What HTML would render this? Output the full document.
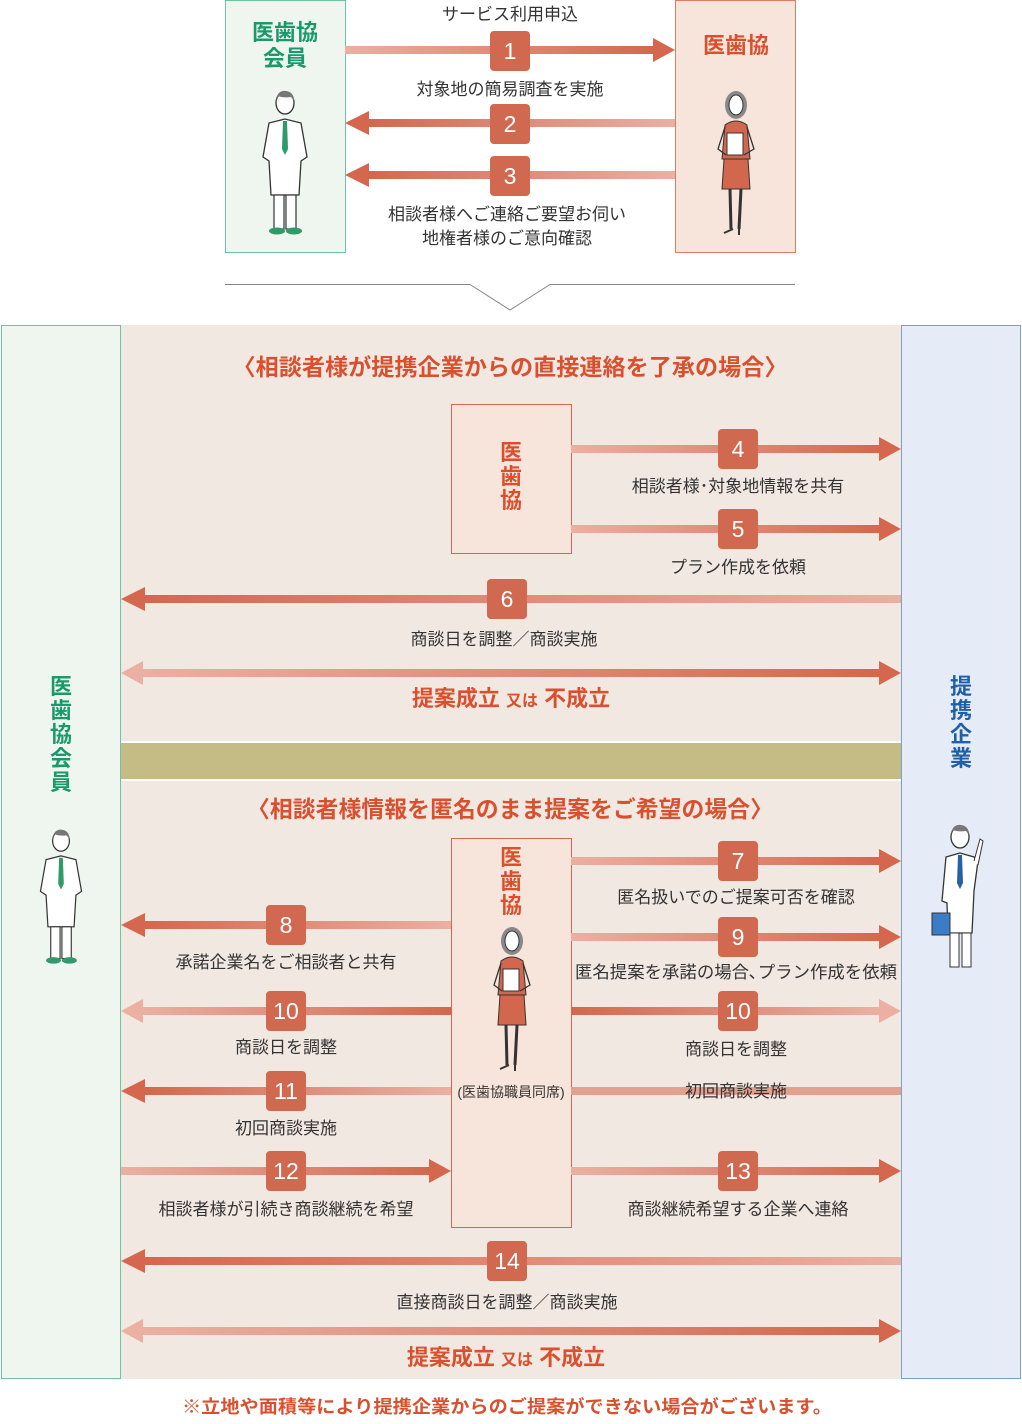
<!DOCTYPE html>
<html><head><meta charset="utf-8"><style>
html,body{margin:0;padding:0;background:#fff;}
svg text{font-family:"Liberation Sans","Noto Sans CJK JP",sans-serif;}
</style></head><body>
<svg width="1022" height="1419" viewBox="0 0 1022 1419" xmlns="http://www.w3.org/2000/svg">
<defs>
<linearGradient id="gR" x1="0" x2="1" y1="0" y2="0"><stop offset="0" stop-color="#ebb0a2"/><stop offset="1" stop-color="#d4674e"/></linearGradient>
<linearGradient id="gL" x1="0" x2="1" y1="0" y2="0"><stop offset="0" stop-color="#d4674e"/><stop offset="1" stop-color="#ebb0a2"/></linearGradient>
<symbol id="doc" viewBox="0 0 60 150">
<path d="M30 32 L14 36 L8 70 L14 74 L16 108 L44 108 L46 74 L52 70 L46 36 Z" fill="#fff" stroke="#333" stroke-width="1.3"/>
<polygon points="28,34 32,34 33,62 30,68 27,62" fill="#2f9a6a"/>
<ellipse cx="30" cy="16" rx="9" ry="11" fill="#fff" stroke="#333" stroke-width="1.3"/>
<path d="M21 14 Q22 3 31 4 Q39 5 39 14 L36 10 Q28 11 23 9 Z" fill="#777"/>
<rect x="19" y="108" width="10" height="34" fill="#fff" stroke="#333" stroke-width="1.2"/>
<rect x="31" y="108" width="10" height="34" fill="#fff" stroke="#333" stroke-width="1.2"/>
<ellipse cx="22" cy="144" rx="8" ry="3.5" fill="#2f9a6a"/><ellipse cx="39" cy="144" rx="8" ry="3.5" fill="#2f9a6a"/>
</symbol>
<symbol id="wom" viewBox="0 0 60 150">
<ellipse cx="30" cy="18" rx="11" ry="14" fill="#888"/>
<ellipse cx="30" cy="18" rx="7" ry="10" fill="#fff" stroke="#333"/>
<path d="M19 38 Q30 30 41 38 L44 72 L16 72 Z" fill="#d3674e" stroke="#333" stroke-width="1"/>
<path d="M19 40 L12 62 L20 68 M41 40 L48 62 L38 68" fill="none" stroke="#333" stroke-width="1.3"/>
<rect x="21" y="46" width="16" height="22" fill="#fff" stroke="#333"/>
<polygon points="18,72 42,72 44,102 16,102" fill="#d3674e" stroke="#333"/>
<path d="M24 102 L25 142 M35 102 L33 142" stroke="#333" stroke-width="3"/>
<path d="M18 146 L27 142 M33 142 L33 148" stroke="#333" stroke-width="2"/>
</symbol>
<symbol id="biz" viewBox="0 0 60 150">
<path d="M30 32 L16 36 L12 80 L17 82 L18 112 L42 112 L44 70 L48 40 L44 36 Z" fill="#fff" stroke="#333" stroke-width="1.3"/>
<polygon points="28,34 32,34 33,62 30,68 27,62" fill="#2860a8"/>
<ellipse cx="30" cy="16" rx="9" ry="11" fill="#fff" stroke="#333" stroke-width="1.3"/>
<path d="M21 14 Q22 3 31 4 Q39 5 39 14 L36 10 Q28 11 23 9 Z" fill="#777"/>
<path d="M44 40 L50 18 L53 20 L48 44" fill="#fff" stroke="#333"/>
<rect x="20" y="112" width="9" height="34" fill="#fff" stroke="#333"/>
<rect x="32" y="112" width="9" height="34" fill="#fff" stroke="#333"/>
<rect x="2" y="92" width="18" height="22" fill="#3a7cc8" stroke="#333"/>
</symbol>
</defs>

<rect x="225.5" y="0.5" width="120" height="252" fill="#eef6ef" stroke="#6fc2a3"/>
<rect x="675.5" y="0.5" width="120" height="252" fill="#f7e4da" stroke="#e07a60"/>
<text x="285" y="40" font-size="22" fill="#1a9a6c" text-anchor="middle" font-weight="bold">医歯協</text>
<text x="285" y="66" font-size="22" fill="#1a9a6c" text-anchor="middle" font-weight="bold">会員</text>
<text x="736" y="53" font-size="22" fill="#d9502e" text-anchor="middle" font-weight="bold">医歯協</text>
<use href="#doc" x="255" y="86" width="60" height="152"/>
<use href="#wom" x="706" y="86" width="60" height="152"/>

<g font-size="17" fill="#333" text-anchor="middle">
<text x="510" y="20">サービス利用申込</text>
<text x="510" y="95">対象地の簡易調査を実施</text>
<text x="507" y="220">相談者様へご連絡ご要望お伺い</text>
<text x="507" y="244">地権者様のご意向確認</text>
</g>
<rect x="345" y="46" width="310" height="8" fill="url(#gR)"/><polygon points="653,38 675,50 653,62" fill="#d4674e"/>
<rect x="367" y="119" width="308" height="8" fill="url(#gL)"/><polygon points="369,111 345,123 369,135" fill="#d4674e"/>
<rect x="367" y="171" width="308" height="8" fill="url(#gL)"/><polygon points="369,163 345,175 369,187" fill="#d4674e"/>
<g fill="#d0694f"><rect x="490" y="31" width="40" height="40" rx="4"/><rect x="490" y="104" width="40" height="40" rx="4"/><rect x="490" y="156" width="40" height="40" rx="4"/></g>
<g font-size="23" fill="#fff" text-anchor="middle"><text x="510" y="59">1</text><text x="510" y="132">2</text><text x="510" y="184">3</text></g>

<polyline points="225,284.5 470,284.5 510,310 550,284.5 795,284.5" fill="none" stroke="#888" stroke-width="1"/>

<rect x="121" y="325" width="780" height="1054" fill="#f2e8e2"/>
<rect x="121" y="741" width="780" height="40" fill="#fff"/>
<rect x="121" y="743" width="780" height="36" fill="#c5bb84"/>
<rect x="1.5" y="325.5" width="119" height="1053" fill="#eef6ef" stroke="#6fc2a3"/>
<rect x="901.5" y="325.5" width="119" height="1053" fill="#e5ecf7" stroke="#7aa0d0"/>
<g font-size="22" fill="#1a9a6c" text-anchor="middle" font-weight="bold"><text x="61" y="694">医</text><text x="61" y="718">歯</text><text x="61" y="742">協</text><text x="61" y="766">会</text><text x="61" y="790">員</text></g>
<g font-size="22" fill="#1f5fa8" text-anchor="middle" font-weight="bold"><text x="961" y="694">提</text><text x="961" y="718">携</text><text x="961" y="742">企</text><text x="961" y="766">業</text></g>
<use href="#doc" x="33" y="820" width="56" height="152"/>
<use href="#biz" x="930" y="820" width="60" height="152"/>

<g font-size="23" fill="#d9502e" text-anchor="middle" font-weight="bold">
<text x="510" y="375" textLength="555" lengthAdjust="spacingAndGlyphs">〈相談者様が提携企業からの直接連絡を了承の場合〉</text>
<text x="510" y="817" textLength="526" lengthAdjust="spacingAndGlyphs">〈相談者様情報を匿名のまま提案をご希望の場合〉</text>
</g>

<rect x="451.5" y="404.5" width="120" height="149" fill="#f7e4da" stroke="#d0694f"/>
<rect x="451.5" y="838.5" width="120" height="389" fill="#f7e4da" stroke="#d0694f"/>
<g font-size="22" fill="#d9502e" text-anchor="middle" font-weight="bold">
<text x="511" y="460">医</text><text x="511" y="484">歯</text><text x="511" y="508">協</text>
<text x="511" y="865">医</text><text x="511" y="889">歯</text><text x="511" y="913">協</text>
</g>
<use href="#wom" x="482" y="922" width="60" height="152"/>
<text x="511" y="1097" font-size="14" fill="#333" text-anchor="middle">(医歯協職員同席)</text>

<g>
<rect x="571" y="445" width="310" height="8" fill="url(#gR)"/><polygon points="879,437 901,449 879,461" fill="#d4674e"/>
<rect x="571" y="525" width="310" height="8" fill="url(#gR)"/><polygon points="879,517 901,529 879,541" fill="#d4674e"/>
<rect x="143" y="595" width="758" height="8" fill="url(#gL)"/><polygon points="145,587 121,599 145,611" fill="#d4674e"/>
<rect x="141" y="669" width="740" height="8" fill="url(#gR)"/><polygon points="879,661 901,673 879,685" fill="#d4674e"/><polygon points="143,661 121,673 143,685" fill="#ebb0a2"/>
<rect x="571" y="857" width="310" height="8" fill="url(#gR)"/><polygon points="879,849 901,861 879,873" fill="#d4674e"/>
<rect x="143" y="921" width="308" height="8" fill="url(#gL)"/><polygon points="145,913 121,925 145,937" fill="#d4674e"/>
<rect x="571" y="933" width="310" height="8" fill="url(#gR)"/><polygon points="879,925 901,937 879,949" fill="#d4674e"/>
<rect x="141" y="1007" width="310" height="8" fill="url(#gR)"/><polygon points="143,999 121,1011 143,1023" fill="#ebb0a2"/>
<rect x="571" y="1007" width="310" height="8" fill="url(#gL)"/><polygon points="879,999 901,1011 879,1023" fill="#ebb0a2"/>
<rect x="143" y="1087" width="308" height="8" fill="url(#gL)"/><polygon points="145,1079 121,1091 145,1103" fill="#d4674e"/>
<rect x="571" y="1087" width="330" height="8" fill="#e4a08f"/>
<rect x="121" y="1167" width="310" height="8" fill="url(#gR)"/><polygon points="429,1159 451,1171 429,1183" fill="#d4674e"/>
<rect x="571" y="1167" width="310" height="8" fill="url(#gR)"/><polygon points="879,1159 901,1171 879,1183" fill="#d4674e"/>
<rect x="143" y="1257" width="758" height="8" fill="url(#gL)"/><polygon points="145,1249 121,1261 145,1273" fill="#d4674e"/>
<rect x="141" y="1327" width="740" height="8" fill="url(#gR)"/><polygon points="879,1319 901,1331 879,1343" fill="#d4674e"/><polygon points="143,1319 121,1331 143,1343" fill="#ebb0a2"/>
</g>
<g fill="#d0694f">
<rect x="718" y="429" width="40" height="40" rx="4"/>
<rect x="718" y="509" width="40" height="40" rx="4"/>
<rect x="487" y="579" width="40" height="40" rx="4"/>
<rect x="718" y="841" width="40" height="40" rx="4"/>
<rect x="266" y="905" width="40" height="40" rx="4"/>
<rect x="718" y="917" width="40" height="40" rx="4"/>
<rect x="266" y="991" width="40" height="40" rx="4"/>
<rect x="718" y="991" width="40" height="40" rx="4"/>
<rect x="266" y="1071" width="40" height="40" rx="4"/>
<rect x="266" y="1151" width="40" height="40" rx="4"/>
<rect x="718" y="1151" width="40" height="40" rx="4"/>
<rect x="487" y="1241" width="40" height="40" rx="4"/>
</g>
<g font-size="23" fill="#fff" text-anchor="middle">
<text x="738" y="457">4</text><text x="738" y="537">5</text><text x="507" y="607">6</text>
<text x="738" y="869">7</text><text x="286" y="933">8</text><text x="738" y="945">9</text>
<text x="286" y="1019">10</text><text x="738" y="1019">10</text><text x="286" y="1099">11</text>
<text x="286" y="1179">12</text><text x="738" y="1179">13</text><text x="507" y="1269">14</text>
</g>
<g font-size="17" fill="#333" text-anchor="middle">
<text x="738" y="492">相談者様･対象地情報を共有</text>
<text x="738" y="573">プラン作成を依頼</text>
<text x="504" y="645">商談日を調整／商談実施</text>
<text x="736" y="903">匿名扱いでのご提案可否を確認</text>
<text x="286" y="968">承諾企業名をご相談者と共有</text>
<text x="736" y="978" textLength="322" lengthAdjust="spacingAndGlyphs">匿名提案を承諾の場合､プラン作成を依頼</text>
<text x="286" y="1053">商談日を調整</text>
<text x="736" y="1055">商談日を調整</text>
<text x="736" y="1097">初回商談実施</text>
<text x="286" y="1134">初回商談実施</text>
<text x="286" y="1215">相談者様が引続き商談継続を希望</text>
<text x="738" y="1215">商談継続希望する企業へ連絡</text>
<text x="507" y="1308">直接商談日を調整／商談実施</text>
</g>
<g fill="#d9502e" text-anchor="middle" font-weight="bold">
<text x="511" y="706" font-size="22">提案成立 <tspan font-size="16">又は</tspan> 不成立</text>
<text x="506" y="1365" font-size="22">提案成立 <tspan font-size="16">又は</tspan> 不成立</text>
<text x="507" y="1413" font-size="18" textLength="650" lengthAdjust="spacingAndGlyphs">※立地や面積等により提携企業からのご提案ができない場合がございます。</text>
</g>
</svg>
</body></html>
